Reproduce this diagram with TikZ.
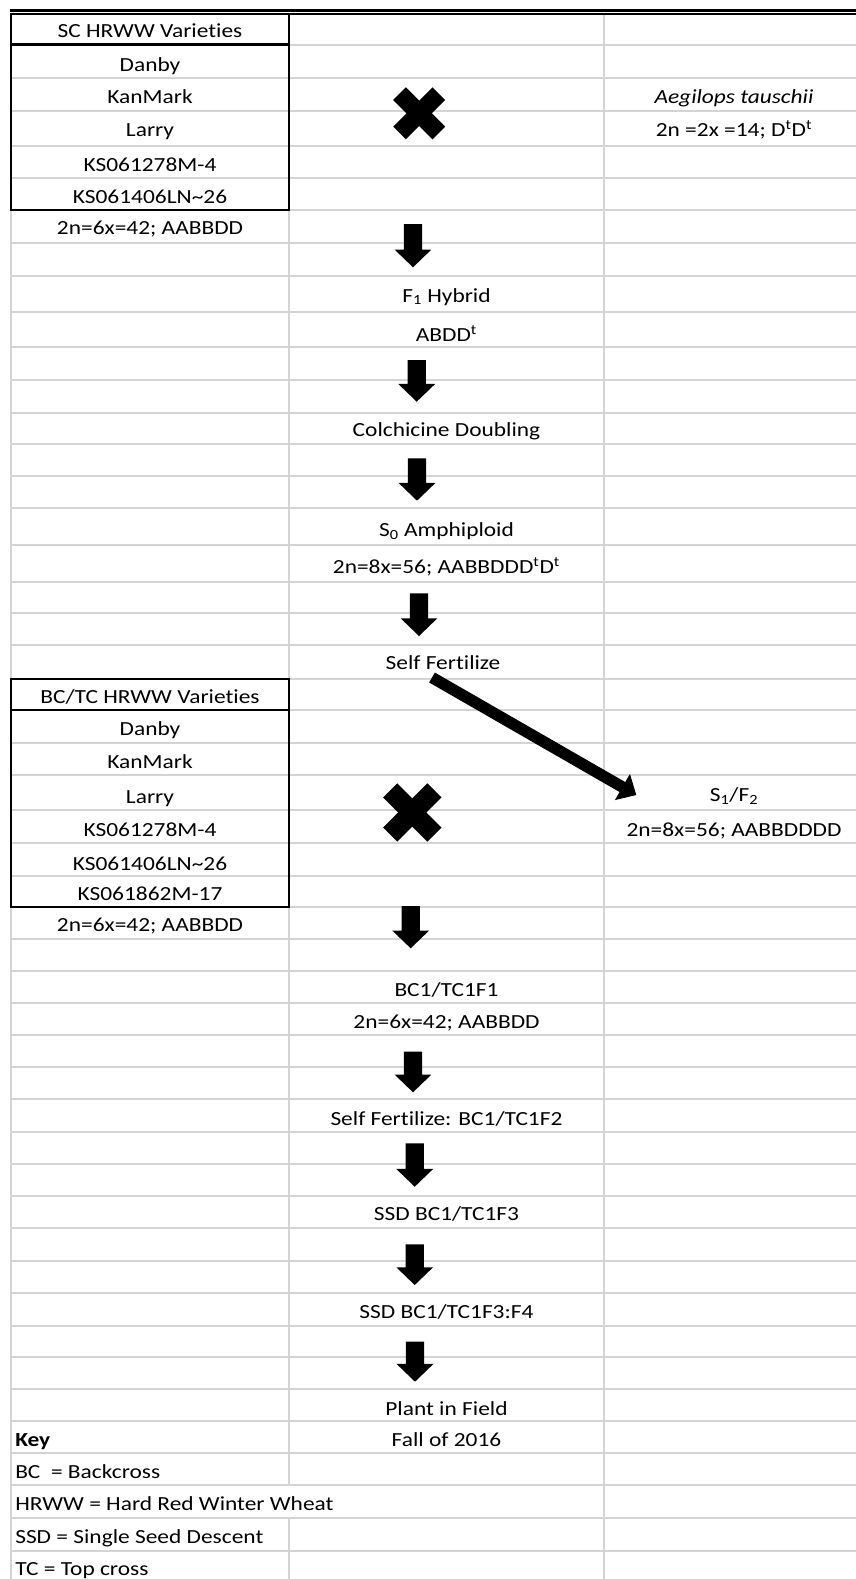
\documentclass[tikz,border=0pt]{standalone}
\usepackage{fontspec}
\setmainfont{Carlito}[FakeStretch=1.17, Ligatures={TeX,NoCommon}]
\usetikzlibrary{calc}
\definecolor{gridgray}{RGB}{212,212,212}
\tikzset{
  gridline/.style={draw=gridgray, line width=1.5pt},
  boxline/.style={draw=black, line width=1.6pt},
  txt/.style={anchor=base, inner sep=0pt, font=\fontsize{15pt}{18pt}\selectfont},
  lefttxt/.style={txt, anchor=base west},
  arrowfill/.style={fill=black},
  crossbar/.style={fill=black},
}
% block arrow: #1 start, #2 tip, #3 half shaft, #4 half head, #5 head length
\newcommand{\blockarrowpath}[5]{%
  \coordinate (hb) at ($(#2)!#5!(#1)$);
  \fill[arrowfill] ($(#1)!#3!90:(#2)$) -- ($(hb)!#3!90:(#2)$) -- ($(hb)!#4!90:(#2)$)
    -- (#2) -- ($(hb)!#4!-90:(#2)$) -- ($(hb)!#3!-90:(#2)$) -- ($(#1)!#3!-90:(#2)$) -- cycle;
}
\begin{document}
\begin{tikzpicture}[x=0.75pt,y=-0.75pt]
\useasboundingbox (0,0) rectangle (856,1579);
\fill[white] (0,0) rectangle (856,1579);
% grid
\foreach \yy in {44.5,78.3,111,145.7,178.3,210,243,276,311.7,347.3,380,412.7,444,476,508.3,545,581.7,613.3,645,678.5,710,742.7,775,810,843.3,876,907,939.3,971,1003.3,1035,1066.7,1099.3,1131.7,1164.3,1196,1228.3,1261,1293.3,1325.7,1356.7,1389.3,1421,1452.7,1485,1517.7,1550.7}
  \draw[gridline] (11,\yy) -- (856,\yy);
\draw[gridline] (11,14) -- (11,1579);
\draw[gridline] (289,14) -- (289,1485);
\draw[gridline] (289,1517.7) -- (289,1579);
\draw[gridline] (603.5,14) -- (603.5,1579);
% top double rule
\draw[line width=2pt] (10,10.3) -- (856,10.3);
\draw[line width=1.5pt] (10,13.9) -- (856,13.9);
% boxes
\draw[boxline] (11,13.9) rectangle (289,210);
\draw[boxline] (11,44.5) -- (289,44.5);
\draw[boxline] (11,679) rectangle (289,907.3);
\draw[boxline] (11,709.7) -- (289,709.7);
% texts column 1
\node[txt] (sc) at (150,37) {SC HRWW Varieties};
\node[txt] (d1) at (150,71.5) {Danby};
\node[txt] (k1) at (150,103.5) {KanMark};
\node[txt] (l1) at (150,136.5) {Larry};
\node[txt] (ks1a) at (150,171) {KS061278M-4};
\node[txt] (ks1b) at (150,203.5) {KS061406LN\textasciitilde 26};
\node[txt] (p1) at (150,234) {2n=6x=42; AABBDD};
\node[txt] (bctc) at (150,703) {BC/TC HRWW Varieties};
\node[txt] (d2) at (150,735) {Danby};
\node[txt] (k2) at (150,768) {KanMark};
\node[txt] (l2) at (150,803) {Larry};
\node[txt] (ks2a) at (150,836.5) {KS061278M-4};
\node[txt] (ks2b) at (150,870) {KS061406LN\textasciitilde 26};
\node[txt] (ks2c) at (150,900) {KS061862M-17};
\node[txt] (p2) at (150,931.5) {2n=6x=42; AABBDD};
% column 3
\node[txt] (ae) at (734,103.5) {\textit{Aegilops tauschii}};
\node[txt] (aeg) at (734,136.5) {2n =2x =14; D\textsuperscript{t}D\textsuperscript{t}};
\node[txt] (s1) at (734,801.5) {S\textsubscript{1}/F\textsubscript{2}};
\node[txt] (s1g) at (734,836.5) {2n=8x=56; AABBDDDD};
% column 2
\node[txt] (f1) at (446.5,302) {F\textsubscript{1} Hybrid};
\node[txt] (abdd) at (446.5,341) {ABDD\textsuperscript{t}};
\node[txt] (colch) at (446.5,436) {Colchicine Doubling};
\node[txt] (s0) at (446.5,536.5) {S\textsubscript{0} Amphiploid};
\node[txt] (s0g) at (446.5,573) {2n=8x=56; AABBDDD\textsuperscript{t}D\textsuperscript{t}};
\node[txt] (self) at (443,669.5) {Self Fertilize};
\node[txt] (bc1) at (446.5,996.5) {BC1/TC1F1};
\node[txt] (bc1g) at (446.5,1028) {2n=6x=42; AABBDD};
\node[txt] (sf2) at (446.5,1125) {Self Fertilize: BC1/TC1F2};
\node[txt] (ssd3) at (446.5,1220.5) {SSD BC1/TC1F3};
\node[txt] (ssd4) at (446.5,1318) {SSD BC1/TC1F3:F4};
\node[txt] (plant) at (446.5,1415) {Plant in Field};
\node[txt] (fall) at (446.5,1446.5) {Fall of 2016};
% key
\node[lefttxt] (key) at (15,1446.5) {\textbf{Key}};
\node[lefttxt] (kbc) at (15,1478) {BC\ \ = Backcross};
\node[lefttxt] (khr) at (15,1510.5) {HRWW = Hard Red Winter Wheat};
\node[lefttxt] (kssd) at (15,1543) {SSD = Single Seed Descent};
\node[lefttxt] (ktc) at (15,1575) {TC = Top cross};
% crosses
\fill[crossbar, rotate around={45:(419.2,113.3)}] (391.4,104.3) rectangle (447,122.3);
\fill[crossbar, rotate around={-45:(419.2,113.3)}] (391.4,104.3) rectangle (447,122.3);
\fill[crossbar, rotate around={45:(412.3,812.5)}] (381,802.5) rectangle (443.6,822.5);
\fill[crossbar, rotate around={-45:(412.3,812.5)}] (381,802.5) rectangle (443.6,822.5);
% down arrows
\coordinate (a1s) at (413,224);    \coordinate (a1e) at (413,267.3);
\coordinate (a2s) at (416.7,360);  \coordinate (a2e) at (416.7,401.7);
\coordinate (a3s) at (417,458.3);  \coordinate (a3e) at (417,500.7);
\coordinate (a4s) at (419,593.3);  \coordinate (a4e) at (419,636);
\coordinate (a5s) at (410.7,906);  \coordinate (a5e) at (410.7,948.3);
\coordinate (a6s) at (413,1051.7); \coordinate (a6e) at (413,1092.3);
\coordinate (a7s) at (414.7,1143.3); \coordinate (a7e) at (414.7,1186.7);
\coordinate (a8s) at (414.7,1244.3); \coordinate (a8e) at (414.7,1285);
\coordinate (a9s) at (415,1341.7); \coordinate (a9e) at (415,1381.7);
\foreach \i in {1,...,9} {\blockarrowpath{a\i s}{a\i e}{6.9pt}{13.8pt}{13.3pt}}
% diagonal arrow
\coordinate (ds) at (432,677.5);
\coordinate (de) at (636.3,795);
\blockarrowpath{ds}{de}{4.3pt}{11.3pt}{12pt}
\end{tikzpicture}
\end{document}
